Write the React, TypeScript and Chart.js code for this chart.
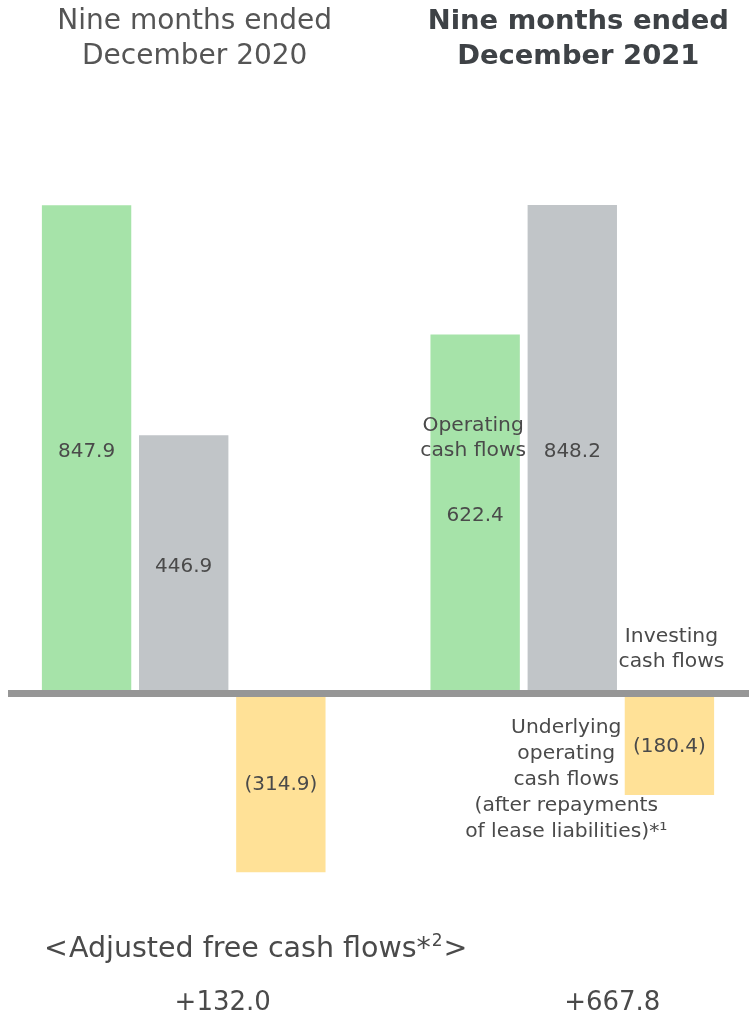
import React, { useEffect, useRef } from "react";
import { Chart, registerables } from "chart.js";

Chart.register(...registerables);

// ---- data ----
const periodPrefix = "Nine months ended";
const periods = ["December 2020", "December 2021"];
const operating = [847.9, 622.4];
const underlying = [446.9, 848.2];
const investing = [-314.9, -180.4];
const adjustedFcf = [132.0, 667.8];
const operatingLabel = ["Operating", "cash flows"];
const investingLabel = ["Investing", "cash flows"];
const underlyingLabel = ["Underlying", "operating", "cash flows", "(after repayments", "of lease liabilities)*¹"];
const footerTitle = "Adjusted free cash flows*";
const footerNote = "2";

const colors = { op: "#a6e3a9", un: "#c1c5c8", inv: "#ffe197", gap: "rgba(0,0,0,0)" };

const slotLabels = ["op20", "un20", "inv20", "", "op21", "un21", "inv21"];
const slotValues = [operating[0], underlying[0], investing[0], null, operating[1], underlying[1], investing[1]];
const slotColors = [colors.op, colors.un, colors.inv, colors.gap, colors.op, colors.un, colors.inv];

const FONT = "'DejaVu Sans', Verdana, sans-serif";

const fmt = (v: number) => (v < 0 ? `(${Math.abs(v).toFixed(1)})` : v.toFixed(1));

const textPlugin = {
  id: "texts",
  afterDatasetsDraw(chart: any) {
    const ctx = chart.ctx as CanvasRenderingContext2D;
    const meta = chart.getDatasetMeta(0);
    const yScale = chart.scales.y;
    const zeroY = yScale.getPixelForValue(0);
    ctx.save();
    // baseline
    ctx.strokeStyle = "#969696";
    ctx.lineWidth = 7;
    ctx.beginPath();
    ctx.moveTo(8, zeroY + 2);
    ctx.lineTo(chart.width, zeroY + 2);
    ctx.stroke();

    ctx.textAlign = "center";
    ctx.textBaseline = "middle";
    ctx.fillStyle = "#4a4a4a";
    ctx.font = `20px ${FONT}`;
    // value labels
    meta.data.forEach((bar: any, i: number) => {
      const v = slotValues[i];
      if (v === null || v === undefined) return;
      const mid = (bar.y + bar.base) / 2 + 3;
      ctx.fillText(fmt(v as number), bar.x, mid);
    });
    // annotations for 2021 group
    const op21 = meta.data[4];
    const un21 = meta.data[5];
    const inv21 = meta.data[6];
    const opMid = (op21.y + op21.base) / 2 + 3;
    ctx.font = `20.3px ${FONT}`;
    operatingLabel.forEach((t, k) => ctx.fillText(t, op21.x - 2, opMid - 90 + k * 25));
    investingLabel.forEach((t, k) => ctx.fillText(t, inv21.x + 2, zeroY - 55 + k * 25));
    underlyingLabel.forEach((t, k) => ctx.fillText(t, un21.x - 6, zeroY + 36 + k * 26));

    // titles
    const g20 = meta.data[1].x;
    const g21 = meta.data[5].x;
    ctx.font = `28px ${FONT}`;
    ctx.fillStyle = "#555555";
    ctx.fillText(periodPrefix, g20 + 11, 22);
    ctx.fillText(periods[0], g20 + 11, 57);
    ctx.font = `bold 27.4px ${FONT}`;
    ctx.fillStyle = "#3e4246";
    ctx.fillText(periodPrefix, g21 + 6, 22);
    ctx.fillText(periods[1], g21 + 6, 57);

    // footer
    ctx.fillStyle = "#4a4a4a";
    ctx.textAlign = "left";
    let x = 44;
    const fy = 950;
    ctx.font = `28.5px ${FONT}`;
    ctx.fillText("<", x, fy);
    x += ctx.measureText("<").width + 1;
    ctx.fillText(footerTitle, x, fy);
    x += ctx.measureText(footerTitle).width + 1;
    ctx.font = `17px ${FONT}`;
    ctx.fillText(footerNote, x, fy - 8);
    x += ctx.measureText(footerNote).width + 1;
    ctx.font = `28.5px ${FONT}`;
    ctx.fillText(">", x, fy);

    ctx.font = `26px ${FONT}`;
    ctx.textAlign = "center";
    ctx.fillText(`+${adjustedFcf[0].toFixed(1)}`, g20 + 39, 1003);
    ctx.fillText(`+${adjustedFcf[1].toFixed(1)}`, g21 + 40, 1003);
    ctx.restore();
  },
};

export default function App() {
  const ref = useRef<HTMLCanvasElement>(null);
  useEffect(() => {
    if (!ref.current) return;
    const chart = new Chart(ref.current, {
      type: "bar",
      data: {
        labels: slotLabels,
        datasets: [
          {
            data: slotValues as any,
            backgroundColor: slotColors,
            borderWidth: 0,
            barPercentage: 0.92,
            categoryPercentage: 1,
          },
        ],
      },
      options: {
        animation: false,
        responsive: false,
        devicePixelRatio: 1,
        layout: { padding: { top: 118, bottom: 96, left: 38, right: 31 } },
        plugins: { legend: { display: false }, tooltip: { enabled: false }, title: { display: false } },
        scales: {
          x: { display: false },
          y: { display: false, min: -400, max: 1000 },
        },
      },
      plugins: [textPlugin],
    });
    return () => chart.destroy();
  }, []);
  return (
    <div style={{ position: "absolute", left: 0, top: 0, width: 749, height: 1017, background: "#fff" }}>
      <canvas ref={ref} width={749} height={1017} />
    </div>
  );
}
